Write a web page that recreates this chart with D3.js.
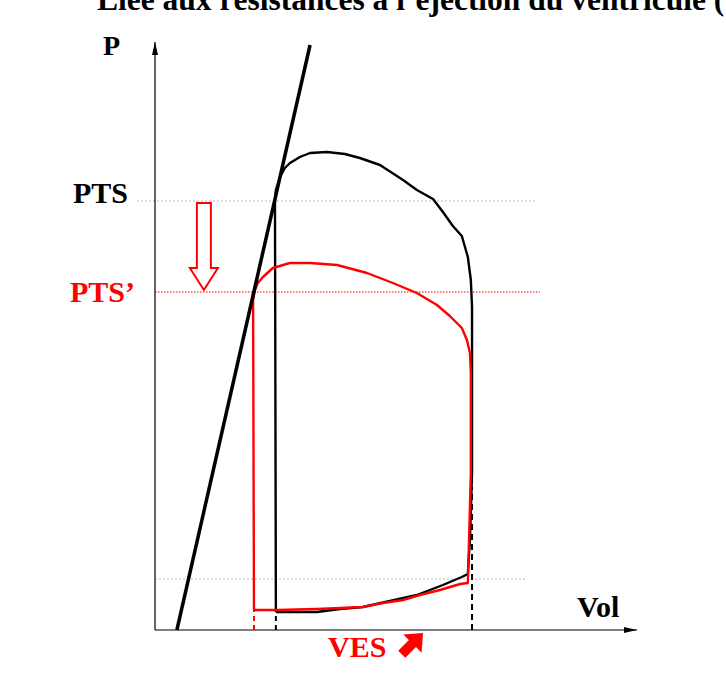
<!DOCTYPE html>
<html><head><meta charset="utf-8">
<script src="https://cdn.jsdelivr.net/npm/d3@7"></script>
<style>body{margin:0;background:#fff}svg{display:block}</style>
</head><body>
<svg id="c" width="726" height="675"></svg>
<script>
// Data (volume in arbitrary units, pressure in arbitrary units)
const loopVol   = [40.3,40,40.3,41.7,43.3,45,48.3,51.7,57.3,63.3,68.3,75,82.7,87.3,92.7,96,99.3,102.3,104.3,105.3,105.7,105.7,105.7,105,104.3,102.3,100.7,96,87.3,78.3,69.3,61.7,54,46.7,40.3];
const loopPres  = [4.5,107,110,113.25,115.5,116.75,118.25,119.25,119.5,119,118,116.25,112.5,110,107.75,104.5,101,98.5,93.25,87.5,80.75,57.5,39.25,22.5,14,13.25,12.75,11.25,8.75,7.25,5.75,5.25,4.5,4.5,4.5];
const loop2Vol  = [33,32.7,33.3,34.3,36,39.3,45,51.7,60.7,70.7,79.3,87.3,94,98.3,102.3,104,105,105.3,105.3,104.7,104.3,101.7,95,88.3,82.7,76,69.3,61.7,54,40.7,33];
const loop2Pres = [5,82.5,85,86.75,88.25,90.5,91.75,91.75,91.25,89.25,86.75,84.25,81.25,78.5,75.5,72.5,69.25,64.25,39.25,22.5,11.75,11.5,10,8.75,7.5,6.75,5.75,5.5,5.25,5,5];
const espvrVol  = [7.3,51.7];
const espvrPres = [0,146.25];
const PTS = 107.25, PTS2 = 84.5, PTD = 12.75;
const VES = 40.3, VES2 = 33, VTD = 105.7, VTDdashTop = 35.75;
const arrowVol = 16.3;
const labels = {title:"Liée aux résistances à l’éjection du ventricule (", p:"P", vol:"Vol", pts:"PTS", pts2:"PTS’", ves:"VES"};

const svg = d3.select("#c");
const x = d3.scaleLinear().domain([0,160.7]).range([155,637]);
const y = d3.scaleLinear().domain([0,147]).range([630,42]);
const serif = "'Liberation Serif','Times New Roman',serif";

// title (clipped at top, as in the reference)
svg.append("text").attr("x",97).attr("y",10).attr("font-family",serif).attr("font-weight","bold")
  .attr("font-size",31.5).attr("fill","#000").text(labels.title);

// reference lines
svg.append("line").attr("x1",x(-6)).attr("x2",x(126.7)).attr("y1",y(PTS)).attr("y2",y(PTS))
  .attr("stroke","#bbb").attr("stroke-width",1).attr("stroke-dasharray","2,2");
svg.append("line").attr("x1",x(0)).attr("x2",x(124)).attr("y1",y(PTD)).attr("y2",y(PTD))
  .attr("stroke","#bbb").attr("stroke-width",1).attr("stroke-dasharray","2,2");
svg.append("line").attr("x1",x(0)).attr("x2",x(128.3)).attr("y1",y(PTS2)).attr("y2",y(PTS2))
  .attr("stroke","#ff0000").attr("stroke-width",1.2).attr("stroke-dasharray","1.5,1.5");

// axes
const defs = svg.append("defs");
defs.append("marker").attr("id","ah").attr("viewBox","0 0 13 6").attr("refX",13).attr("refY",3)
  .attr("markerWidth",13).attr("markerHeight",6).attr("markerUnits","userSpaceOnUse").attr("orient","auto")
  .append("path").attr("d","M0,0L13,3L0,6Z").attr("fill","#000");
const xAxis = d3.axisBottom(x).tickValues([]).tickSizeOuter(0);
const yAxis = d3.axisLeft(y).tickValues([]).tickSizeOuter(0);
const gx = svg.append("g").attr("transform",`translate(0,${y(0)})`).call(xAxis);
const gy = svg.append("g").attr("transform",`translate(${x(0)},0)`).call(yAxis);
gx.select(".domain").remove(); gy.select(".domain").remove();
svg.append("line").attr("x1",x(0)).attr("y1",y(0)).attr("x2",x(160.7)).attr("y2",y(0))
  .attr("stroke","#000").attr("stroke-width",1.2).attr("marker-end","url(#ah)");
svg.append("line").attr("x1",x(0)).attr("y1",y(0)).attr("x2",x(0)).attr("y2",y(147))
  .attr("stroke","#000").attr("stroke-width",1.2).attr("marker-end","url(#ah)");

// dashed drop lines
svg.append("line").attr("x1",x(VES)).attr("x2",x(VES)).attr("y1",y(0)).attr("y2",y(4.5))
  .attr("stroke","#000").attr("stroke-width",2).attr("stroke-dasharray","5,4");
svg.append("line").attr("x1",x(VTD)).attr("x2",x(VTD)).attr("y1",y(0)).attr("y2",y(VTDdashTop))
  .attr("stroke","#000").attr("stroke-width",2).attr("stroke-dasharray","6,4");
svg.append("line").attr("x1",x(VES2)).attr("x2",x(VES2)).attr("y1",y(0)).attr("y2",y(5))
  .attr("stroke","#ff0000").attr("stroke-width",2).attr("stroke-dasharray","5,4");

const line = d3.line().x(d=>x(d[0])).y(d=>y(d[1]));

// black loop
svg.append("path").datum(d3.zip(loopVol,loopPres)).attr("d",line)
  .attr("fill","none").attr("stroke","#000").attr("stroke-width",2.4).attr("stroke-linejoin","round");
// red loop
svg.append("path").datum(d3.zip(loop2Vol,loop2Pres)).attr("d",line)
  .attr("fill","none").attr("stroke","#ff0000").attr("stroke-width",2.4).attr("stroke-linejoin","round");
// ESPVR
svg.append("path").datum(d3.zip(espvrVol,espvrPres)).attr("d",line)
  .attr("fill","none").attr("stroke","#000").attr("stroke-width",3.5);

// red hollow down arrow between PTS and PTS'
{
  const cx = x(arrowVol), top = y(PTS)+2, tip = y(PTS2)-2;
  const sw = 7, hw = 14, hh = 22;
  const pts = [[cx-sw,top],[cx+sw,top],[cx+sw,tip-hh],[cx+hw,tip-hh],[cx,tip],[cx-hw,tip-hh],[cx-sw,tip-hh]];
  svg.append("path").attr("d","M"+pts.map(p=>p.join(",")).join("L")+"Z")
    .attr("fill","#fff").attr("stroke","#ff0000").attr("stroke-width",2);
}

// labels
function lab(t,xx,yy,col,size){
  return svg.append("text").attr("x",xx).attr("y",yy).attr("font-family",serif).attr("font-weight","bold")
    .attr("font-size",size).attr("fill",col).text(t);
}
lab(labels.p,103,55,"#000",28);
lab(labels.pts,73,203,"#000",30);
lab(labels.pts2,70,302,"#ff0000",30);
lab(labels.vol,577,617,"#000",30);
lab(labels.ves,328,657,"#ff0000",30);

// VES up-right filled arrow
{
  const g = svg.append("g").attr("transform","translate(411,645) rotate(45)");
  g.append("path").attr("d","M0,-17L13,-2L5,-2L5,13L-5,13L-5,-2L-13,-2Z").attr("fill","#ff0000");
}
</script>
</body></html>
